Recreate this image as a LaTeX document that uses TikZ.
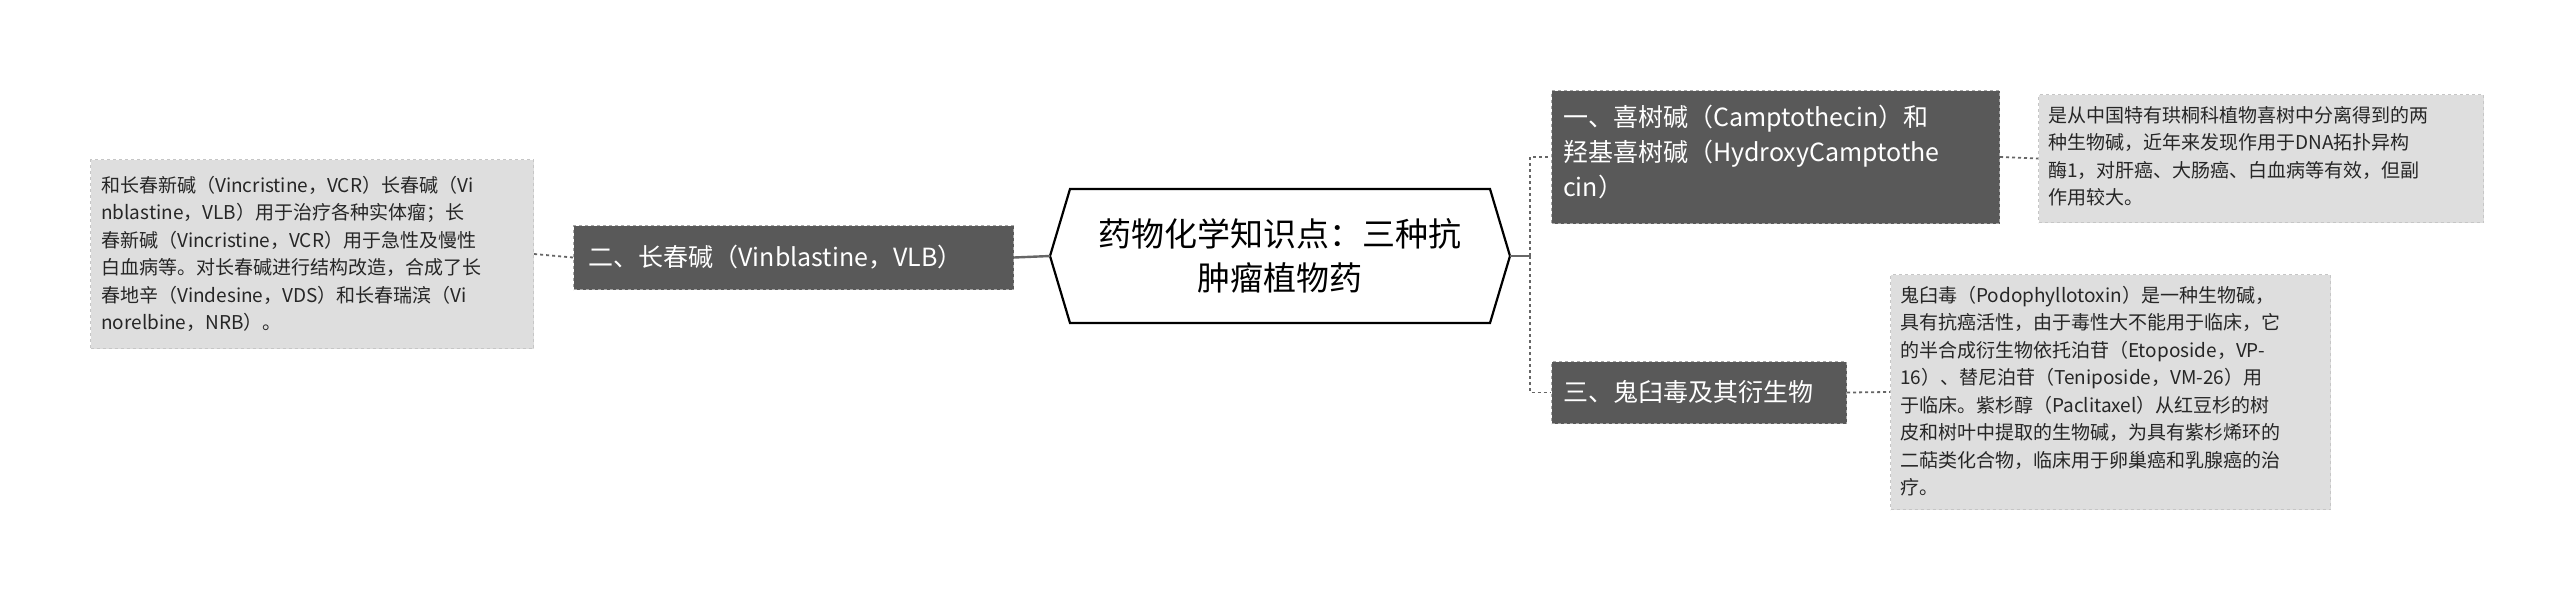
\documentclass[tikz,border=0pt]{standalone}
\usepackage{fontspec}
\setmainfont{Noto Sans CJK SC}
\begin{document}
\begin{tikzpicture}[x=1pt,y=-1pt,
  dark/.style={fill=darkbox,draw=gray!70,dashed,line width=1pt,text=white,font=\fontsize{25}{33}\selectfont,align=left,inner sep=0pt,anchor=north west},
  leaf/.style={fill=leafbox,draw=gray!45,dashed,line width=1pt,text=black!85,font=\fontsize{19}{27.5}\selectfont,align=left,inner sep=0pt,anchor=north west},
  conn/.style={draw=black!60,dashed,line width=1.8pt},
  solidc/.style={draw=black!60,line width=2.4pt}]
\definecolor{darkbox}{HTML}{595959}
\definecolor{leafbox}{HTML}{DEDEDE}
\useasboundingbox (0,0) rectangle (2560,598);
% center
\draw[line width=2.2pt,fill=white] (1050,256)--(1070,189)--(1490,189)--(1510,256)--(1490,323)--(1070,323)--cycle;
\node[font=\fontsize{33}{44}\selectfont,align=center] (c) at (1280,256) {药物化学知识点：三种抗\\肿瘤植物药};
\coordinate (cl) at (1050,256);
\coordinate (cr) at (1510,256);
% left
\node[dark,minimum width=440pt,minimum height=64pt] (n2) at (573,225) {};
\node[text=white,font=\fontsize{25}{33}\selectfont,anchor=west] at (585,257) {二、长春碱（Vinblastine，VLB）};
\node[leaf,minimum width=443pt,minimum height=189pt] (l2) at (90,159) {};
\node[font=\fontsize{19}{27.5}\selectfont,align=left,anchor=north west,inner sep=0pt,text=black!85] at (101,176) {和长春新碱（Vincristine，VCR）长春碱（Vi\\nblastine，VLB）用于治疗各种实体瘤；长\\春新碱（Vincristine，VCR）用于急性及慢性\\白血病等。对长春碱进行结构改造，合成了长\\春地辛（Vindesine，VDS）和长春瑞滨（Vi\\norelbine，NRB）。};
% right top
\node[dark,minimum width=448pt,minimum height=133pt] (n1) at (1551,90) {};
\node[text=white,font=\fontsize{25}{35}\selectfont,align=left,anchor=north west,inner sep=0pt] at (1563,105) {一、喜树碱（Camptothecin）和\\羟基喜树碱（HydroxyCamptothe\\cin）};
\node[leaf,minimum width=445pt,minimum height=128pt] (l1) at (2038,94) {};
\node[font=\fontsize{19}{27.5}\selectfont,align=left,anchor=north west,inner sep=0pt,text=black!85] at (2048,106) {是从中国特有珙桐科植物喜树中分离得到的两\\种生物碱，近年来发现作用于DNA拓扑异构\\酶1，对肝癌、大肠癌、白血病等有效，但副\\作用较大。};
% right bottom
\node[dark,minimum width=295pt,minimum height=62pt] (n3) at (1551,361) {};
\node[text=white,font=\fontsize{25}{33}\selectfont,anchor=west] at (1560,392) {三、鬼臼毒及其衍生物};
\node[leaf,minimum width=440pt,minimum height=235pt] (l3) at (1890,274) {};
\node[font=\fontsize{19}{27.5}\selectfont,align=left,anchor=north west,inner sep=0pt,text=black!85] at (1900,286) {鬼臼毒（Podophyllotoxin）是一种生物碱，\\具有抗癌活性，由于毒性大不能用于临床，它\\的半合成衍生物依托泊苷（Etoposide，VP-\\16）、替尼泊苷（Teniposide，VM-26）用\\于临床。紫杉醇（Paclitaxel）从红豆杉的树\\皮和树叶中提取的生物碱，为具有紫杉烯环的\\二萜类化合物，临床用于卵巢癌和乳腺癌的治\\疗。};
% connectors
\coordinate (j) at (1530,256);
\draw[solidc] (cl) -- (n2.east);
\draw[solidc] (cr) -- (j);
\draw[conn] (j) |- (n1.west);
\draw[conn] (j) |- (n3.west);
\draw[conn] (n2.west) -- (l2.east);
\draw[conn] (n1.east) -- (l1.west);
\draw[conn] (n3.east) -- (l3.west);
\end{tikzpicture}
\end{document}
